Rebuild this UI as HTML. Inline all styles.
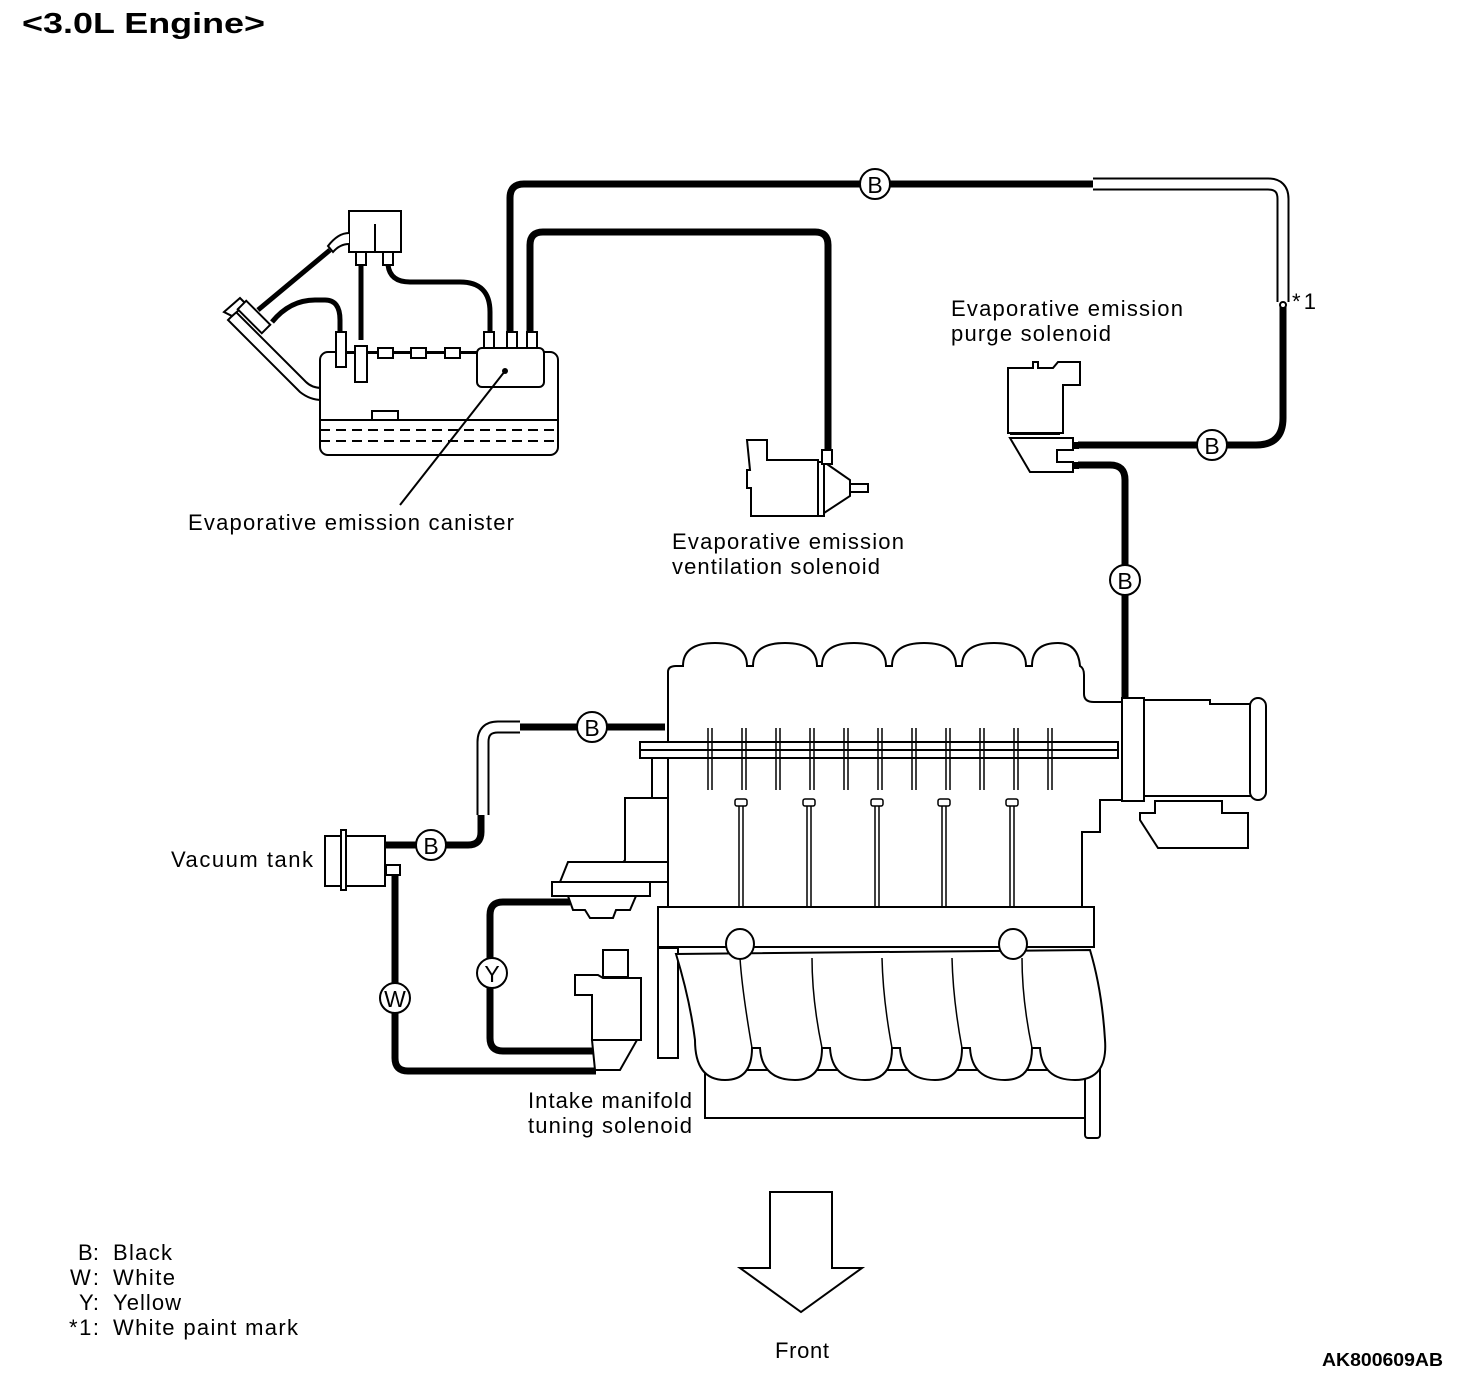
<!DOCTYPE html>
<html><head><meta charset="utf-8"><style>
html,body{margin:0;padding:0;background:#fff}
svg{display:block}
text{font-family:"Liberation Sans",Arial,sans-serif;fill:#000}
</style></head><body>
<svg width="1472" height="1392" viewBox="0 0 1472 1392" xmlns="http://www.w3.org/2000/svg">
<text x="22" y="33" font-size="29" font-weight="bold" textLength="243" lengthAdjust="spacingAndGlyphs">&lt;3.0L Engine&gt;</text>

<g fill="none" stroke="#000" stroke-linejoin="round">
<path d="M510 332 V198 Q510 184 524 184 H1093" stroke-width="7"/>
<path d="M1093 184 H1268 Q1283 184 1283 199 V302" stroke-width="13"/>
<path d="M1093 184 H1268 Q1283 184 1283 199 V302" stroke="#fff" stroke-width="9"/>
<path d="M1283 306 V418 Q1283 445 1256 445 H1078" stroke-width="7"/>
<circle cx="1283" cy="305" r="3" stroke-width="2" fill="#fff"/>
<path d="M530 332 V245 Q530 232 543 232 H815 Q828 232 828 245 V455" stroke-width="7"/>
<path d="M1078 465 H1110 Q1125 465 1125 480 V700" stroke-width="7"/>
<path d="M388 265 Q390 282 410 282 H460 Q490 282 490 312 V332" stroke-width="5"/>
<path d="M361 265 V340" stroke-width="5"/>
<path d="M258 310 L330 250" stroke-width="5"/>
<path d="M272 322 Q290 300 315 300 H325 Q340 300 340 320 V332" stroke-width="5"/>
<path d="M385 845 H468 Q481 845 481 832 V815" stroke-width="7"/>
<path d="M483 815 V742 Q483 727 498 727 H520" stroke-width="13"/>
<path d="M483 815 V742 Q483 727 498 727 H520" stroke="#fff" stroke-width="9"/>
<path d="M520 727 H665" stroke-width="7"/>
<path d="M395 875 V1058 Q395 1071 408 1071 H596" stroke-width="7"/>
<path d="M570 902 H503 Q490 902 490 915 V1038 Q490 1051 503 1051 H596" stroke-width="7"/>
</g>

<g fill="#fff" stroke="#000" stroke-width="2">
<path d="M322 400 Q310 400 300 392 L228 320 L236 312 L306 382 Q312 388 322 388" />
<path d="M224 312 L240 298 L246 304 L232 316 Z"/>
<rect x="248" y="300" width="12" height="34" transform="rotate(-45 254 317)"/>
<rect x="320" y="352" width="238" height="103" rx="8"/>
<line x1="320" y1="420" x2="558" y2="420"/>
<line x1="320" y1="430" x2="558" y2="430" stroke-dasharray="10 6"/>
<line x1="320" y1="441" x2="558" y2="441" stroke-dasharray="10 6"/>
<rect x="372" y="411" width="26" height="9"/>
<line x1="345" y1="353" x2="478" y2="353"/>
<rect x="378" y="348" width="15" height="10"/>
<rect x="411" y="348" width="15" height="10"/>
<rect x="445" y="348" width="15" height="10"/>
<rect x="336" y="332" width="10" height="35"/>
<rect x="355" y="346" width="12" height="36"/>
<rect x="477" y="348" width="67" height="39" rx="5"/>
<rect x="484" y="332" width="10" height="16"/>
<rect x="507" y="332" width="10" height="16"/>
<rect x="527" y="332" width="10" height="16"/>
<rect x="349" y="211" width="52" height="41"/>
<rect x="356" y="252" width="10" height="13"/>
<rect x="383" y="252" width="10" height="13"/>
<path d="M349 233 Q338 233 328 246 L333 252 Q340 244 349 244"/>
<line x1="375" y1="224" x2="375" y2="252"/>
</g>
<circle cx="505" cy="371" r="3"/>
<line x1="505" y1="371" x2="400" y2="505" stroke="#000" stroke-width="2"/>

<g fill="#fff" stroke="#000" stroke-width="2">
<path d="M747 440 H767 V460 H818 V516 H751 V488 H747 V470 H750 Z"/>
<rect x="818" y="462" width="6" height="54"/>
<path d="M824 462 L850 480 V496 L824 513 Z"/>
<rect x="850" y="484" width="18" height="8"/>
<rect x="822" y="450" width="10" height="14"/>
<path d="M1008 368 H1033 V362 H1038 V368 H1053 L1058 362 H1080 V385 H1063 V433 H1008 Z"/>
<path d="M1010 438 H1073 V450 H1057 V462 H1073 V472 H1030 Z"/>
<line x1="1010" y1="434" x2="1060" y2="434"/>
</g>
<rect x="1073" y="442" width="6" height="7"/>
<rect x="1073" y="462" width="6" height="7"/>

<g fill="#fff" stroke="#000" stroke-width="2">
<path d="M668 742 V672 Q668 666 676 666 H683 Q683 643 715 643 Q747 643 747 666 H753 Q753 643 785 643 Q817 643 817 666 H822 Q822 643 854 643 Q886 643 886 666 H892 Q892 643 924 643 Q956 643 956 666 H962 Q962 643 994 643 Q1026 643 1026 666 H1032 Q1032 643 1058 643 Q1078 643 1080 666 Q1084 668 1084 675 V694 Q1084 702 1094 702 H1122 V800 H1100 V832 H1082 V907 H668 V760"/>
<rect x="640" y="742" width="478" height="16"/>
<line x1="640" y1="750" x2="1118" y2="750"/>
<rect x="652" y="758" width="16" height="40"/>
<path d="M625 798 H668 V880 H610 L625 860 Z"/>
<path d="M568 862 H668 V882 H560 Z"/>
<rect x="552" y="882" width="98" height="14"/>
<path d="M568 896 H636 L630 910 H616 L613 918 H590 L585 910 H573 Z"/>
<rect x="1122" y="698" width="22" height="103"/>
<path d="M1144 700 H1210 V704 H1255 V796 H1144 Z"/>
<rect x="1250" y="698" width="16" height="102" rx="8"/>
<path d="M1155 801 H1222 V813 H1248 V848 H1158 L1140 820 V813 H1155 Z"/>
<rect x="705" y="1070" width="380" height="48"/>
<rect x="1085" y="1060" width="15" height="78" rx="3"/>
<rect x="658" y="948" width="20" height="110"/>
<path d="M676 954 Q690 1000 695 1040 Q695 1080 725 1080 Q752 1080 752 1048 L760 1048 Q762 1080 795 1080 Q822 1080 822 1048 L830 1048 Q832 1080 865 1080 Q892 1080 892 1048 L900 1048 Q902 1080 935 1080 Q962 1080 962 1048 L970 1048 Q972 1080 1005 1080 Q1032 1080 1032 1048 L1040 1048 Q1042 1080 1075 1080 Q1108 1080 1105 1040 Q1102 990 1090 950 Z"/>
<rect x="658" y="907" width="436" height="40"/>
<ellipse cx="740" cy="944" rx="14" ry="15"/>
<ellipse cx="1013" cy="944" rx="14" ry="15"/>
<rect x="325" y="836" width="60" height="50"/>
<rect x="341" y="830" width="5" height="60"/>
<rect x="386" y="865" width="14" height="10"/>
<rect x="603" y="950" width="25" height="27"/>
<path d="M575 975 H598 L603 978 H641 V1040 H592 V995 H575 Z"/>
<path d="M592 1040 H637 L620 1070 H595 Z"/>
</g>
<g fill="none" stroke="#000" stroke-width="1.5">
<path d="M708 728V790M712 728V790M742 728V790M746 728V790M776 728V790M780 728V790M810 728V790M814 728V790M844 728V790M848 728V790M878 728V790M882 728V790M912 728V790M916 728V790M946 728V790M950 728V790M980 728V790M984 728V790M1014 728V790M1018 728V790M1048 728V790M1052 728V790"/>
<path d="M739 806V907M743 806V907M807 806V907M811 806V907M875 806V907M879 806V907M942 806V907M946 806V907M1010 806V907M1014 806V907"/>
<path d="M740 958 Q742 990 752 1048 M812 958 Q812 1000 822 1048 M882 958 Q883 1000 892 1048 M952 958 Q953 1000 962 1048 M1022 958 Q1022 1000 1032 1048"/>
</g>
<g fill="#fff" stroke="#000" stroke-width="1.5">
<rect x="735" y="799" width="12" height="7" rx="2"/><rect x="803" y="799" width="12" height="7" rx="2"/><rect x="871" y="799" width="12" height="7" rx="2"/><rect x="938" y="799" width="12" height="7" rx="2"/><rect x="1006" y="799" width="12" height="7" rx="2"/>
</g>

<g fill="#fff" stroke="#000" stroke-width="2">
<circle cx="875" cy="184" r="15"/><circle cx="1212" cy="445" r="15"/><circle cx="1125" cy="580" r="15"/>
<circle cx="592" cy="727" r="15"/><circle cx="431" cy="845" r="15"/><circle cx="395" cy="998" r="15"/><circle cx="492" cy="973" r="15"/>
</g>
<g font-size="23" text-anchor="middle">
<text x="875" y="193">B</text><text x="1212" y="454">B</text><text x="1125" y="589">B</text>
<text x="592" y="736">B</text><text x="431" y="854">B</text><text x="395" y="1007">W</text><text x="492" y="982">Y</text>
</g>

<path d="M770 1192 H832 V1268 H862 L801 1312 L740 1268 H770 Z" fill="#fff" stroke="#000" stroke-width="2"/>

<g font-size="22" lengthAdjust="spacingAndGlyphs">
<text x="1292" y="309" textLength="24">*1</text>
<text x="951" y="316" textLength="232">Evaporative emission</text>
<text x="951" y="341" textLength="160">purge solenoid</text>
<text x="188" y="530" textLength="326">Evaporative emission canister</text>
<text x="672" y="549" textLength="232">Evaporative emission</text>
<text x="672" y="574" textLength="208">ventilation solenoid</text>
<text x="171" y="867" textLength="142">Vacuum tank</text>
<text x="528" y="1108" textLength="164">Intake manifold</text>
<text x="528" y="1133" textLength="164">tuning solenoid</text>
<text x="775" y="1358" textLength="54">Front</text>
<text x="78" y="1260" textLength="21">B:</text><text x="113" y="1260" textLength="59">Black</text>
<text x="70" y="1285" textLength="29">W:</text><text x="113" y="1285" textLength="62">White</text>
<text x="79" y="1310" textLength="20">Y:</text><text x="113" y="1310" textLength="68">Yellow</text>
<text x="69" y="1335" textLength="30">*1:</text><text x="113" y="1335" textLength="185">White paint mark</text>
</g>
<text x="1322" y="1366" font-size="18" font-weight="bold" textLength="121" lengthAdjust="spacingAndGlyphs">AK800609AB</text>
</svg>
</body></html>
